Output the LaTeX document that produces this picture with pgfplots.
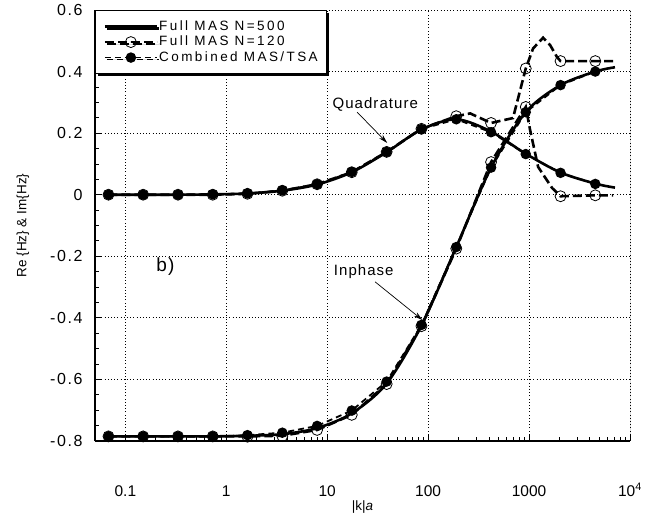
\documentclass[border=0pt]{standalone}
\usepackage{fontspec}
\setmainfont{Liberation Sans}
\newfontfamily\legfont[LetterSpace=18]{Liberation Sans}
\newfontfamily\annfont[LetterSpace=7]{Liberation Sans}
\newfontfamily\ytfont[LetterSpace=10]{Liberation Sans}
\usepackage{pgfplots}
\pgfplotsset{compat=1.18}
\usetikzlibrary{arrows.meta,shadows}

\begin{document}
\begin{tikzpicture}
\path[use as bounding box] (-95pt,-77pt) rectangle (557pt,441pt);
\begin{axis}[
 scale only axis, width=535pt, height=431pt,
 xmode=log, xmin=0.05, xmax=10000, ymin=-0.8, ymax=0.6,
 axis x line*=bottom, axis y line*=left,
 axis line style={-, line width=1.2pt},
 xtick={0.1,1,10,100,1000,10000},
 xticklabels={0.1,1,10,100,1000,10\textsuperscript{4}},
 ytick={-0.8,-0.6,-0.4,-0.2,0,0.2,0.4,0.6},
 yticklabels={-0.8,-0.6,-0.4,-0.2,0,0.2,0.4,0.6},
 minor y tick num=3,
 tick align=inside,
 major tick length=6pt, minor tick length=4pt,
 every tick/.style={black, line width=0.8pt},
 grid=major,
 major grid style={black, line width=0.8pt, dash pattern=on 0.8pt off 2.4pt},
 xticklabel style={font=\fontsize{15.5}{18}\selectfont, anchor=base, yshift=-55pt},
 yticklabel style={font=\ytfont\fontsize{16}{19}\selectfont, xshift=-9pt},
 xlabel={|k|\textit{a}},
 ylabel={Re \{Hz\} \& Im\{Hz\}},
 label style={font=\fontsize{13.5}{16}\selectfont},
 xlabel style={at={(axis description cs:0.5,0)}, anchor=base, yshift=-69pt},
 ylabel style={at={(axis description cs:-0.1346,0.5)}, anchor=center},
 legend cell align=left,
 legend image code/.code={\draw[mark repeat=2,mark phase=2,#1] plot coordinates {(0pt,0pt) (26pt,0pt) (52pt,0pt)};},
 legend style={at={(axis description cs:0,1)}, anchor=north west, fill=white, draw=black, line width=1.2pt,
   inner xsep=8pt, inner ysep=9pt, row sep=1.5pt,
   font=\legfont\fontsize{13.5}{16}\selectfont,
   nodes={inner sep=1pt, text height=9.5pt, text depth=2.5pt},
   drop shadow={shadow xshift=2pt, shadow yshift=-2pt, fill=black, opacity=1}},
]
\addlegendimage{black, line width=2.6pt}
\addlegendentry{Full MAS N=500}
\addlegendimage{black, line width=2.6pt, dash pattern=on 9pt off 4pt, mark=o, mark size=5.5pt, mark options={solid, line width=0.8pt}}
\addlegendentry{Full MAS N=120}
\addlegendimage{black, line width=1.8pt, dash pattern=on 6pt off 4pt, mark=*, mark size=4.3pt, mark options={solid}}
\addlegendentry{Combined MAS/TSA}

% Full MAS N=500 (solid)
\addplot[black, line width=2.6pt, smooth, tension=0.5, forget plot] coordinates {
(0.068,-0.785) (0.150,-0.785) (0.332,-0.785) (0.734,-0.785) (1.62,-0.783) (3.59,-0.778)
(7.94,-0.758) (17.5,-0.710) (38.8,-0.613) (85.8,-0.425) (190,-0.170) (420,0.088)
(927,0.268) (2050,0.356) (4530,0.400) (7100,0.414)};
\addplot[black, line width=2.6pt, smooth, tension=0.5, forget plot] coordinates {
(0.068,0) (0.150,0) (0.332,0) (0.734,0.001) (1.62,0.004) (3.59,0.013)
(7.94,0.033) (17.5,0.073) (38.8,0.138) (85.8,0.212) (190,0.245) (420,0.205)
(927,0.133) (2050,0.072) (4530,0.036) (7100,0.023)};

% Full MAS N=120 (dashed lines)
\addplot[black, line width=2.6pt, dash pattern=on 9pt off 4pt, forget plot] coordinates {
(0.068,-0.785) (0.150,-0.785) (0.332,-0.785) (0.734,-0.785) (1.62,-0.785) (3.59,-0.783)
(7.94,-0.764) (17.5,-0.715) (38.8,-0.615) (85.8,-0.427) (190,-0.175) (420,0.106)
(927,0.285) (1024,0.21) (1230,0.09) (1690,0.022) (2050,-0.005) (4530,-0.002) (6800,-0.002)};
\addplot[black, line width=2.6pt, dash pattern=on 9pt off 4pt, forget plot] coordinates {
(0.068,0) (0.150,0) (0.332,0) (0.734,0) (1.62,0.003) (3.59,0.013)
(7.94,0.034) (17.5,0.073) (38.8,0.139) (85.8,0.214) (190,0.255) (261,0.264) (420,0.233)
(693,0.249) (927,0.41) (1096,0.475) (1377,0.51) (1616,0.486) (1892,0.447) (2050,0.434)
(4530,0.434) (6800,0.434)};

% Combined MAS/TSA
\addplot[black, line width=1.8pt, dash pattern=on 6pt off 4pt, mark=*, mark size=4.3pt, mark options={solid}, forget plot] coordinates {
(0.068,-0.785) (0.150,-0.785) (0.332,-0.785) (0.734,-0.785) (1.62,-0.781) (3.59,-0.773)
(7.94,-0.751) (17.5,-0.701) (38.8,-0.607) (85.8,-0.423) (190,-0.170) (420,0.088)
(927,0.268) (2050,0.356) (4530,0.400)};
\addplot[black, line width=1.8pt, dash pattern=on 6pt off 4pt, mark=*, mark size=4.3pt, mark options={solid}, forget plot] coordinates {
(0.068,0) (0.150,0) (0.332,0) (0.734,0.001) (1.62,0.004) (3.59,0.014)
(7.94,0.034) (17.5,0.074) (38.8,0.139) (85.8,0.213) (190,0.245) (420,0.203)
(927,0.132) (2050,0.071) (4530,0.035)};

% Full MAS N=120 markers
\addplot[only marks, mark=o, mark size=5.5pt, mark options={black, line width=0.8pt}, forget plot] coordinates {
(0.068,-0.785) (0.150,-0.785) (0.332,-0.785) (0.734,-0.785) (1.62,-0.786) (3.59,-0.784)
(7.94,-0.764) (17.5,-0.715) (38.8,-0.615) (85.8,-0.427) (190,-0.175) (420,0.106)
(927,0.285) (2050,-0.005) (4530,-0.002)};
\addplot[only marks, mark=o, mark size=5.5pt, mark options={black, line width=0.8pt}, forget plot] coordinates {
(0.068,0) (0.150,0) (0.332,0) (0.734,0) (1.62,0.003) (3.59,0.013)
(7.94,0.034) (17.5,0.073) (38.8,0.139) (85.8,0.214) (190,0.255) (420,0.233)
(927,0.41) (2050,0.434) (4530,0.434)};

% right border
\draw[black, line width=0.8pt] (rel axis cs:1,0) -- (rel axis cs:1,1);

% annotations
\draw[-{Stealth[length=9pt,width=5pt]}, line width=0.7pt] (axis cs:19.8,0.268) -- (axis cs:39.3,0.168);
\node[font=\annfont\fontsize{15}{18}\selectfont] at (axis cs:29.9,0.294) {Quadrature};
\draw[-{Stealth[length=9pt,width=5pt]}, line width=0.7pt] (axis cs:29.8,-0.283) -- (axis cs:87.7,-0.407);
\node[font=\annfont\fontsize{15}{18}\selectfont] at (axis cs:23,-0.251) {Inphase};
\node[font=\annfont\fontsize{19}{22}\selectfont] at (axis cs:0.249,-0.235) {b)};
\end{axis}
\end{tikzpicture}
\end{document}
